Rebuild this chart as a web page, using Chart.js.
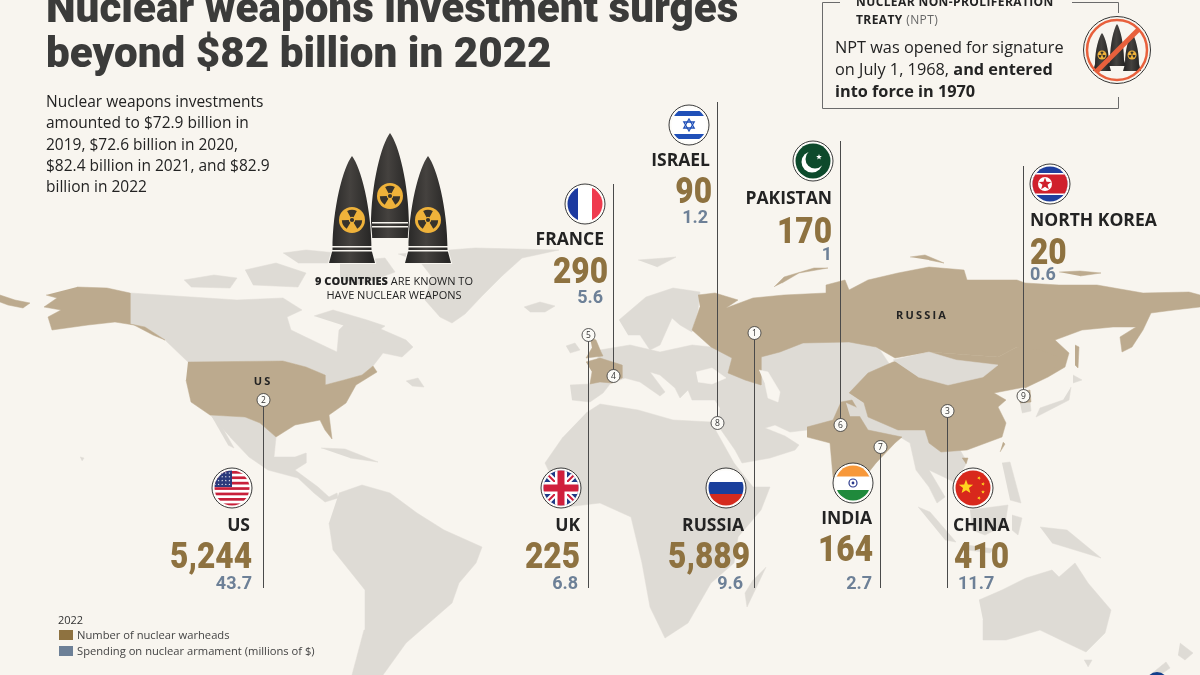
<!DOCTYPE html>
<html>
<head>
<meta charset="utf-8">
<title>Nuclear weapons investment surges</title>
<script src="https://cdn.jsdelivr.net/npm/chart.js@4"></script>
<style>
  html, body { margin: 0; background: #f8f5ef; }
  #wrap { width: 1200px; height: 675px; position: relative; overflow: hidden; }
</style>
</head>
<body>
<div id="wrap"><canvas id="myChart" width="1200" height="675"></canvas></div>
<script>
// values, in ref number order (1 to 9)
const countries = ["RUSSIA", "US", "CHINA", "FRANCE", "UK", "PAKISTAN", "INDIA", "ISRAEL", "NORTH KOREA"];
const warheads = [5889, 5244, 410, 290, 225, 170, 164, 90, 20];
const spending = [9.6, 43.7, 11.7, 5.6, 6.8, 1, 2.7, 1.2, 0.6];

// map outlines, traced in map units (x, y)
const landGrey = [
  // canada
  [[130,293],[191,297],[237,300],[283,298],[302,310],[287,317],[291,330],[318,343],[337,352],[339,330],[352,317],[383,330],[406,340],[413,347],[402,357],[383,353],[373,366],[362,375],[344,380],[325,385],[325,375],[306,367],[283,361],[188,362],[165,340],[145,327],[130,324]],
  [[314,316],[333,310],[367,320],[385,326],[375,333],[345,326]],
  [[184,280],[214,275],[237,278],[230,288],[191,287]],
  [[245,270],[276,263],[306,273],[298,287],[253,285]],
  [[283,253],[306,250],[337,253],[333,263],[298,263]],
  [[340,262],[385,258],[395,272],[360,285],[340,278]],
  [[406,381],[418,378],[424,387],[412,386]],
  // greenland, iceland
  [[398,254],[475,248],[559,250],[522,258],[502,276],[482,296],[465,314],[452,323],[440,317],[425,300],[432,277],[421,263]],
  [[524,307],[540,302],[555,306],[545,312],[530,312]],
  // mexico, baja, central america, cuba, hawaii
  [[210,415],[245,417],[260,423],[276,437],[274,457],[295,457],[306,453],[306,463],[295,470],[318,487],[329,497],[337,493],[338,498],[325,502],[314,493],[298,478],[268,470],[249,457],[230,437]],
  [[212,417],[218,420],[234,448],[228,445]],
  [[321,448],[345,449],[378,462],[350,458]],
  [[80,457],[84,458],[82,461]],
  // south america
  [[339,493],[362,485],[390,493],[417,513],[444,530],[482,547],[476,563],[459,583],[452,603],[429,623],[406,643],[383,675],[352,675],[364,630],[365,590],[333,550],[329,523]],
  // africa, madagascar
  [[586,413],[600,404],[638,410],[673,420],[711,422],[734,463],[753,487],[770,487],[761,510],[738,537],[734,563],[711,583],[688,623],[665,638],[650,607],[642,563],[631,517],[600,503],[566,507],[545,463],[563,437]],
  [[766,567],[747,607],[745,593],[753,580]],
  // eurasia, drawn under the tan countries
  [[570,385],[590,384],[600,350],[630,345],[660,352],[692,345],[711,347],[760,330],[850,330],[880,350],[900,380],[964,420],[960,450],[967,462],[956,483],[950,480],[929,470],[935,480],[945,497],[937,503],[929,487],[916,470],[910,443],[900,437],[890,445],[860,483],[830,443],[807,430],[790,432],[775,425],[765,428],[785,436],[799,445],[795,450],[770,458],[742,463],[735,450],[719,427],[720,408],[715,400],[692,400],[688,390],[680,398],[675,388],[660,375],[650,372],[665,392],[660,396],[640,382],[625,378],[610,384],[603,393],[590,402],[572,400]],
  // scandinavia, ireland, svalbard
  [[619,320],[646,297],[673,288],[700,292],[698,310],[692,332],[680,325],[672,318],[660,345],[650,350],[640,335],[628,335]],
  [[566,346],[575,343],[580,350],[570,353]],
  [[638,260],[665,258],[676,257],[657,267]],
  // japan, korea
  [[1071,387],[1069,400],[1036,417],[1040,408],[1063,400]],
  [[1073,375],[1082,380],[1073,383]],
  [[1020,403],[1030,402],[1031,411],[1022,413]],
  // south east asia, australia, new zealand
  [[1002,463],[1010,462],[1021,503],[1010,500]],
  [[918,507],[930,512],[956,542],[945,540]],
  [[967,545],[994,549],[990,553],[968,550]],
  [[970,510],[1008,505],[1005,525],[985,535],[972,530]],
  [[1012,515],[1022,518],[1018,535],[1012,530]],
  [[1040,527],[1067,530],[1101,558],[1075,550],[1052,543]],
  [[979,600],[1002,590],[1026,578],[1052,570],[1059,577],[1075,563],[1088,583],[1111,610],[1105,633],[1086,652],[1067,643],[1040,630],[1006,640],[983,640],[983,620]],
  [[1084,660],[1092,660],[1088,667]],
  [[1180,643],[1193,653],[1185,660],[1178,655]],
  [[1150,675],[1166,662],[1170,668],[1160,675]]
];
const landTan = [
  // alaska and the tip of russia at the map edge
  [[77,287],[107,288],[130,293],[130,324],[145,327],[165,340],[153,335],[134,325],[115,322],[88,325],[52,330],[48,317],[61,310],[44,307],[57,298],[46,295]],
  [[0,295],[15,300],[30,303],[23,308],[8,305],[0,302]],
  // us
  [[188,362],[283,361],[306,367],[325,375],[325,385],[344,380],[362,375],[373,366],[377,372],[356,385],[346,403],[329,415],[332,439],[325,430],[320,420],[295,425],[276,437],[260,423],[245,417],[210,415],[191,402],[186,380]],
  // russia
  [[698,295],[715,293],[738,300],[726,308],[753,298],[784,295],[826,293],[826,285],[845,280],[849,290],[868,280],[898,273],[929,267],[964,270],[967,280],[1017,280],[1025,283],[1059,285],[1097,285],[1143,293],[1189,292],[1200,295],[1200,307],[1174,310],[1151,313],[1143,330],[1132,347],[1122,352],[1120,337],[1136,327],[1113,327],[1082,330],[1055,340],[1069,353],[1065,367],[1048,377],[1025,388],[1023,383],[1040,360],[1017,347],[998,357],[929,352],[895,358],[876,347],[849,342],[803,343],[780,352],[761,357],[761,385],[745,380],[728,373],[732,358],[711,347],[692,330],[700,307]],
  [[774,287],[784,277],[814,268],[828,268],[799,273],[782,283]],
  [[910,257],[925,255],[944,263],[929,260]],
  [[1059,272],[1080,271],[1101,273],[1080,276]],
  [[1075,345],[1079,347],[1078,368],[1075,365]],
  // china
  [[849,393],[868,373],[893,362],[929,352],[998,357],[1017,347],[1040,350],[1059,357],[1052,373],[1025,387],[994,393],[1006,400],[998,407],[1006,423],[1002,437],[967,450],[941,452],[929,443],[925,430],[898,430],[868,417],[864,403]],
  [[962,458],[968,458],[966,464]],
  [[1003,442],[1005,444],[1000,452]],
  // north korea
  [[1017,393],[1030,390],[1031,402],[1020,403]],
  // india and pakistan
  [[807,427],[833,420],[841,402],[852,400],[858,410],[860,417],[868,430],[902,437],[895,443],[876,463],[860,483],[853,500],[833,477],[830,443],[807,437]],
  // france, uk
  [[586,362],[600,358],[622,365],[622,378],[612,383],[600,382],[590,384],[592,372]],
  [[590,337],[596,340],[601,352],[603,356],[586,358],[592,348]]
];
// water and neighbours that sit on top of the tan and grey shapes
const landOver = [
  { color: "#f8f5ef", pts: [[696,372],[712,368],[726,378],[712,384],[698,382]] },
  { color: "#f8f5ef", pts: [[759,370],[768,372],[780,392],[778,402],[768,398],[765,384]] },
  { color: "#dedbd5", pts: [[893,360],[929,352],[956,360],[998,365],[983,377],[948,385],[918,377]] },
  { color: "#dedbd5", pts: [[870,423],[895,430],[893,434],[870,428]] },
  { color: "#dedbd5", pts: [[846,403],[862,410],[864,416],[850,416]] }
];

// callout layout, same order as the countries
const leaderX = [754.5, 263.5, 947.5, 613.5, 588.5, 840.5, 880.5, 717.5, 1023.5];
const leaderFrom = [333, 400, 411, 184, 335, 141, 447, 102, 166];
const leaderTo = [588, 588, 588, 376, 588, 425, 588, 423, 396];
const badgeY = [333, 400, 411, 376, 335, 425, 447, 423, 396];
const flagPos = [[726,488],[232,488],[973,488],[585,204],[561,488],[813,161],[853,483],[689,125],[1050,184]];
const nameEnd = [744, 250, 953, 604, 580, 832, 872, 710, 1030];
const nameBase = [531, 531, 531, 245, 531, 204, 524, 166, 226];
const numEnd = [750, 252, 954, 608, 580, 832, 873, 712, 1030];
const numBase = [568, 568, 568, 283, 568, 243, 561, 203, 264];
const spendEnd = [743, 252, 958, 603, 578, 832, 872, 708, 1030];
const spendBase = [589, 589, 589, 303, 589, 260, 589, 223, 280];
const leftAligned = [false, false, true, false, false, false, false, false, true];

const BROWN = "#8e7240";
const SLATE = "#6d8097";
const INK = "#232323";
const SANS = "'Open Sans'";
const HEAD = "Roboto";

function toPoints(list) {
  return list.map((p) => ({ x: p[0], y: p[1] }));
}

function shape(list, color) {
  return {
    data: toPoints(list),
    showLine: true,
    fill: "shape",
    backgroundColor: color,
    borderColor: color,
    borderWidth: 0.5,
    pointRadius: 0,
    tension: 0,
  };
}

const layers = [];
landGrey.forEach((s) => layers.push(shape(s, "#dedbd5")));
landTan.forEach((s) => layers.push(shape(s, "#bcaa8e")));
landOver.forEach((s) => layers.push(shape(s.pts, s.color)));
countries.forEach((c, i) => {
  layers.push({
    data: [{ x: leaderX[i], y: leaderFrom[i] }, { x: leaderX[i], y: leaderTo[i] }],
    showLine: true,
    borderColor: "#4a4a4a",
    borderWidth: 1,
    pointRadius: 0,
  });
});
layers.push({
  data: countries.map((c, i) => ({ x: leaderX[i], y: badgeY[i] })),
  showLine: false,
  pointRadius: 6.5,
  pointBackgroundColor: "#fbfaf6",
  pointBorderColor: "#333",
  pointBorderWidth: 0.8,
});
layers.forEach((d, i) => { d.order = -i; });

function put(ctx, text, x, y, font, color, align, squeeze, spacing) {
  ctx.save();
  ctx.font = font;
  ctx.fillStyle = color;
  ctx.textAlign = align || "left";
  ctx.textBaseline = "alphabetic";
  ctx.letterSpacing = (spacing || 0) + "px";
  ctx.translate(x, y);
  ctx.scale(squeeze || 1, 1);
  ctx.fillText(text, 0, 0);
  ctx.restore();
}

function widthOf(ctx, text, font, spacing) {
  ctx.save();
  ctx.font = font;
  ctx.letterSpacing = (spacing || 0) + "px";
  const w = ctx.measureText(text).width;
  ctx.restore();
  return w;
}

function star(ctx, cx, cy, r, color, rot) {
  ctx.beginPath();
  for (let i = 0; i < 10; i++) {
    const a = (rot || 0) - Math.PI / 2 + (i * Math.PI) / 5;
    const rr = i % 2 ? r * 0.42 : r;
    ctx.lineTo(cx + rr * Math.cos(a), cy + rr * Math.sin(a));
  }
  ctx.closePath();
  ctx.fillStyle = color;
  ctx.fill();
}

function band(ctx, x, y, w, h, color) {
  ctx.fillStyle = color;
  ctx.fillRect(x, y, w, h);
}

const flagPainters = {
  RUSSIA(ctx, x, y) {
    band(ctx, x - 20, y - 20, 40, 40, "#fff");
    band(ctx, x - 20, y - 6, 40, 12, "#1a3f9c");
    band(ctx, x - 20, y + 6, 40, 14, "#d52b1e");
  },
  US(ctx, x, y) {
    band(ctx, x - 20, y - 20, 40, 40, "#fff");
    for (let i = 0; i < 7; i++) band(ctx, x - 20, y - 17 + i * 5.4, 40, 2.7, "#c8203a");
    band(ctx, x - 20, y - 20, 20, 19, "#2a3a7c");
    for (let r = 0; r < 4; r++) {
      for (let c = 0; c < 5; c++) star(ctx, x - 17 + c * 3.6, y - 15 + r * 3.8, 1, "#fff");
    }
  },
  CHINA(ctx, x, y) {
    band(ctx, x - 20, y - 20, 40, 40, "#d8281c");
    star(ctx, x - 7, y - 1, 7.5, "#ffd21f");
    star(ctx, x + 6, y - 10, 2, "#ffd21f", 0.4);
    star(ctx, x + 10, y - 4, 2, "#ffd21f", 0.2);
    star(ctx, x + 10, y + 4, 2, "#ffd21f");
    star(ctx, x + 6, y + 10, 2, "#ffd21f", 0.4);
  },
  FRANCE(ctx, x, y) {
    band(ctx, x - 20, y - 20, 40, 40, "#fff");
    band(ctx, x - 20, y - 20, 13, 40, "#1c3aa0");
    band(ctx, x + 7, y - 20, 13, 40, "#ef3a4e");
  },
  UK(ctx, x, y) {
    band(ctx, x - 20, y - 20, 40, 40, "#1f3a86");
    ctx.lineWidth = 6;
    ctx.strokeStyle = "#fff";
    ctx.beginPath();
    ctx.moveTo(x - 20, y - 20); ctx.lineTo(x + 20, y + 20);
    ctx.moveTo(x + 20, y - 20); ctx.lineTo(x - 20, y + 20);
    ctx.stroke();
    ctx.lineWidth = 2;
    ctx.strokeStyle = "#d01f3c";
    ctx.stroke();
    band(ctx, x - 20, y - 6, 40, 12, "#fff");
    band(ctx, x - 6, y - 20, 12, 40, "#fff");
    band(ctx, x - 20, y - 3.5, 40, 7, "#d01f3c");
    band(ctx, x - 3.5, y - 20, 7, 40, "#d01f3c");
  },
  PAKISTAN(ctx, x, y) {
    band(ctx, x - 20, y - 20, 40, 40, "#0d4a2c");
    ctx.fillStyle = "#fff";
    ctx.beginPath(); ctx.arc(x - 1, y + 1, 10.5, 0, 2 * Math.PI); ctx.fill();
    ctx.fillStyle = "#0d4a2c";
    ctx.beginPath(); ctx.arc(x + 2, y - 2, 9.5, 0, 2 * Math.PI); ctx.fill();
    star(ctx, x + 6, y - 4, 3, "#fff");
  },
  INDIA(ctx, x, y) {
    band(ctx, x - 20, y - 20, 40, 40, "#fff");
    band(ctx, x - 20, y - 20, 40, 13.5, "#f7983a");
    band(ctx, x - 20, y + 7, 40, 13, "#1f8a3c");
    ctx.strokeStyle = "#2b3a8c";
    ctx.lineWidth = 1.2;
    ctx.beginPath(); ctx.arc(x, y, 4, 0, 2 * Math.PI); ctx.stroke();
    ctx.fillStyle = "#2b3a8c";
    ctx.beginPath(); ctx.arc(x, y, 1.4, 0, 2 * Math.PI); ctx.fill();
  },
  ISRAEL(ctx, x, y) {
    band(ctx, x - 20, y - 20, 40, 40, "#fff");
    band(ctx, x - 20, y - 14, 40, 5, "#2050b8");
    band(ctx, x - 20, y + 9, 40, 5, "#2050b8");
    ctx.strokeStyle = "#2050b8";
    ctx.lineWidth = 1.3;
    [0, Math.PI].forEach((t) => {
      ctx.beginPath();
      for (let i = 0; i < 3; i++) {
        const a = t - Math.PI / 2 + (i * 2 * Math.PI) / 3;
        ctx.lineTo(x + 6 * Math.cos(a), y + 6 * Math.sin(a));
      }
      ctx.closePath();
      ctx.stroke();
    });
  },
  "NORTH KOREA"(ctx, x, y) {
    band(ctx, x - 20, y - 20, 40, 40, "#1f3f9e");
    band(ctx, x - 20, y - 11, 40, 22, "#fff");
    band(ctx, x - 20, y - 9.5, 40, 19, "#d0202c");
    ctx.fillStyle = "#fff";
    ctx.beginPath(); ctx.arc(x - 5, y, 7, 0, 2 * Math.PI); ctx.fill();
    star(ctx, x - 5, y, 6.5, "#d0202c");
  },
};

function drawFlag(ctx, name, x, y) {
  ctx.save();
  ctx.beginPath();
  ctx.arc(x, y, 20, 0, 2 * Math.PI);
  ctx.fillStyle = "#fdfcf9";
  ctx.fill();
  ctx.strokeStyle = "#3a3a3a";
  ctx.lineWidth = 1;
  ctx.stroke();
  ctx.beginPath();
  ctx.arc(x, y, 17.5, 0, 2 * Math.PI);
  ctx.clip();
  flagPainters[name](ctx, x, y);
  ctx.restore();
}

function missile(ctx, cx, tip, shoulder, base, half, flare, outline) {
  const h = shoulder - tip;
  ctx.beginPath();
  ctx.moveTo(cx, tip);
  ctx.bezierCurveTo(cx + half * 0.45, tip + h * 0.12, cx + half, tip + h * 0.55, cx + half, shoulder);
  ctx.lineTo(cx + flare, base);
  ctx.lineTo(cx - flare, base);
  ctx.lineTo(cx - half, shoulder);
  ctx.bezierCurveTo(cx - half, tip + h * 0.55, cx - half * 0.45, tip + h * 0.12, cx, tip);
  ctx.closePath();
  const g = ctx.createLinearGradient(cx - half, 0, cx + half, 0);
  g.addColorStop(0, "#2a2928");
  g.addColorStop(0.45, "#45423f");
  g.addColorStop(1, "#272625");
  ctx.fillStyle = g;
  if (outline) {
    ctx.strokeStyle = "#f8f5ef";
    ctx.lineWidth = outline;
    ctx.stroke();
  }
  ctx.fill();
}

function trefoil(ctx, x, y, r) {
  ctx.fillStyle = "#efb23a";
  ctx.beginPath(); ctx.arc(x, y, r, 0, 2 * Math.PI); ctx.fill();
  ctx.fillStyle = "#37332c";
  for (let i = 0; i < 3; i++) {
    const a = -Math.PI / 2 + (i * 2 * Math.PI) / 3;
    ctx.beginPath();
    ctx.moveTo(x + r * 0.22 * Math.cos(a - 0.5), y + r * 0.22 * Math.sin(a - 0.5));
    ctx.arc(x, y, r * 0.78, a - 0.5, a + 0.5);
    ctx.arc(x, y, r * 0.25, a + 0.5, a - 0.5, true);
    ctx.closePath();
    ctx.fill();
  }
  ctx.beginPath(); ctx.arc(x, y, r * 0.16, 0, 2 * Math.PI); ctx.fill();
}

function bigMissiles(ctx) {
  missile(ctx, 390, 133, 226, 238, 19, 23, 2);
  band(ctx, 372, 222, 36, 1.5, "#f8f5ef");
  band(ctx, 372, 226, 36, 1.5, "#f8f5ef");
  trefoil(ctx, 390, 196, 13);
  [352, 428].forEach((x) => {
    missile(ctx, x, 156, 250, 263, 19.5, 23, 2);
    band(ctx, x - 20, 246, 40, 1.5, "#f8f5ef");
    band(ctx, x - 20, 250, 40, 1.5, "#f8f5ef");
    trefoil(ctx, x, 220, 13);
  });
}

function nptIcon(ctx) {
  const x = 1117, y = 50;
  ctx.beginPath(); ctx.arc(x, y, 33.5, 0, 2 * Math.PI);
  ctx.fillStyle = "#f8f5ef";
  ctx.fill();
  ctx.strokeStyle = "#333";
  ctx.lineWidth = 1;
  ctx.stroke();
  missile(ctx, 1117, 24, 60, 66, 7, 9);
  missile(ctx, 1102, 33, 64, 71, 7, 9);
  missile(ctx, 1132, 33, 64, 71, 7, 9);
  trefoil(ctx, 1102, 55, 4.5);
  trefoil(ctx, 1132, 55, 4.5);
  ctx.beginPath(); ctx.arc(x, y, 30, 0, 2 * Math.PI);
  ctx.strokeStyle = "#e8603c";
  ctx.lineWidth = 2.5;
  ctx.stroke();
  ctx.beginPath(); ctx.moveTo(1097, 71); ctx.lineTo(1139, 29);
  ctx.lineWidth = 5;
  ctx.stroke();
}

function nptBox(ctx) {
  ctx.strokeStyle = "#6b6b6b";
  ctx.lineWidth = 1;
  ctx.beginPath();
  ctx.moveTo(840, 2.5); ctx.lineTo(822.5, 2.5); ctx.lineTo(822.5, 108.5); ctx.lineTo(1118.5, 108.5); ctx.lineTo(1118.5, 97);
  ctx.moveTo(1072, 2.5); ctx.lineTo(1118.5, 2.5); ctx.lineTo(1118.5, 13);
  ctx.stroke();
  const head = "700 12px " + SANS;
  put(ctx, "NUCLEAR NON-PROLIFERATION", 856, 6, head, INK, "left", 1, 0.4);
  put(ctx, "TREATY", 856, 24, head, INK, "left", 1, 0.4);
  put(ctx, "(NPT)", 856 + widthOf(ctx, "TREATY ", head, 0.4), 24, "400 12px " + SANS, "#666", "left", 1, 0.4);
  const reg = "400 16.3px " + SANS, bold = "700 16.3px " + SANS;
  put(ctx, "NPT was opened for signature", 835, 53, reg, INK);
  put(ctx, "on July 1, 1968, ", 835, 75, reg, INK);
  put(ctx, "and entered", 835 + widthOf(ctx, "on July 1, 1968, ", reg), 75, bold, INK);
  put(ctx, "into force in 1970", 835, 97, bold, INK);
}

const titleLines = ["Nuclear weapons investment surges", "beyond $82 billion in 2022"];
const introLines = [
  "Nuclear weapons investments",
  "amounted to $72.9 billion in",
  "2019, $72.6 billion in 2020,",
  "$82.4 billion in 2021, and $82.9",
  "billion in 2022",
];
const introBase = [107, 128, 150, 171, 192];

const overlay = {
  id: "overlay",
  afterDatasetsDraw(chart) {
    const ctx = chart.ctx;
    const sx = chart.scales.x, sy = chart.scales.y;
    const X = (v) => sx.getPixelForValue(v);
    const Y = (v) => sy.getPixelForValue(v);

    put(ctx, titleLines[0], 46, 22, "900 42.2px " + HEAD, "#3b3b3a");
    put(ctx, titleLines[1], 46, 67, "900 42.2px " + HEAD, "#3b3b3a");
    introLines.forEach((line, i) => put(ctx, line, 46, introBase[i], "400 15.5px " + SANS, INK));

    bigMissiles(ctx);
    const small = "400 11px " + SANS, smallBold = "800 11px " + SANS;
    const w1 = widthOf(ctx, "9 COUNTRIES", smallBold), w2 = widthOf(ctx, " ARE KNOWN TO", small);
    put(ctx, "9 COUNTRIES", 394 - (w1 + w2) / 2, 285, smallBold, INK);
    put(ctx, " ARE KNOWN TO", 394 - (w1 + w2) / 2 + w1, 285, small, INK);
    put(ctx, "HAVE NUCLEAR WEAPONS", 394, 299, small, INK, "center");

    nptBox(ctx);
    nptIcon(ctx);

    put(ctx, "US", X(263), Y(385), "700 11px " + SANS, INK, "center", 1, 2);
    put(ctx, "RUSSIA", X(922), Y(319), "700 11px " + SANS, INK, "center", 1, 2.2);

    countries.forEach((name, i) => {
      put(ctx, String(i + 1), X(leaderX[i]), Y(badgeY[i]) + 3, "400 8.5px " + SANS, "#333", "center");
      drawFlag(ctx, name, X(flagPos[i][0]), Y(flagPos[i][1]));
      const align = leftAligned[i] ? "left" : "right";
      put(ctx, name, X(nameEnd[i]), Y(nameBase[i]), "700 17.5px " + SANS, INK, align);
      put(ctx, warheads[i].toLocaleString("en-US"), X(numEnd[i]), Y(numBase[i]), "900 36px " + HEAD, BROWN, align, 0.88);
      put(ctx, String(spending[i]), X(spendEnd[i]), Y(spendBase[i]), "700 18px " + HEAD, SLATE, align);
    });

    put(ctx, "2022", 58, 624, "400 11px " + SANS, "#333");
    band(ctx, 59, 630, 14, 10, BROWN);
    band(ctx, 59, 646, 14, 10, SLATE);
    put(ctx, "Number of nuclear warheads", 77, 639, "400 11.2px " + SANS, "#444");
    put(ctx, "Spending on nuclear armament (millions of $)", 77, 655, "400 11.2px " + SANS, "#444");

    // corner of the logo at the bottom edge
    ctx.fillStyle = "#123f8c";
    ctx.beginPath(); ctx.arc(X(1157), Y(683), 11, 0, 2 * Math.PI); ctx.fill();
  },
};

new Chart(document.getElementById("myChart"), {
  type: "scatter",
  data: { datasets: layers },
  options: {
    responsive: false,
    animation: false,
    layout: { padding: 0, autoPadding: false },
    plugins: { legend: { display: false }, tooltip: { enabled: false } },
    scales: {
      x: { type: "linear", min: 0, max: 1200, display: false },
      y: { type: "linear", min: 0, max: 675, reverse: true, display: false },
    },
  },
  plugins: [overlay],
});
</script>
</body>
</html>
